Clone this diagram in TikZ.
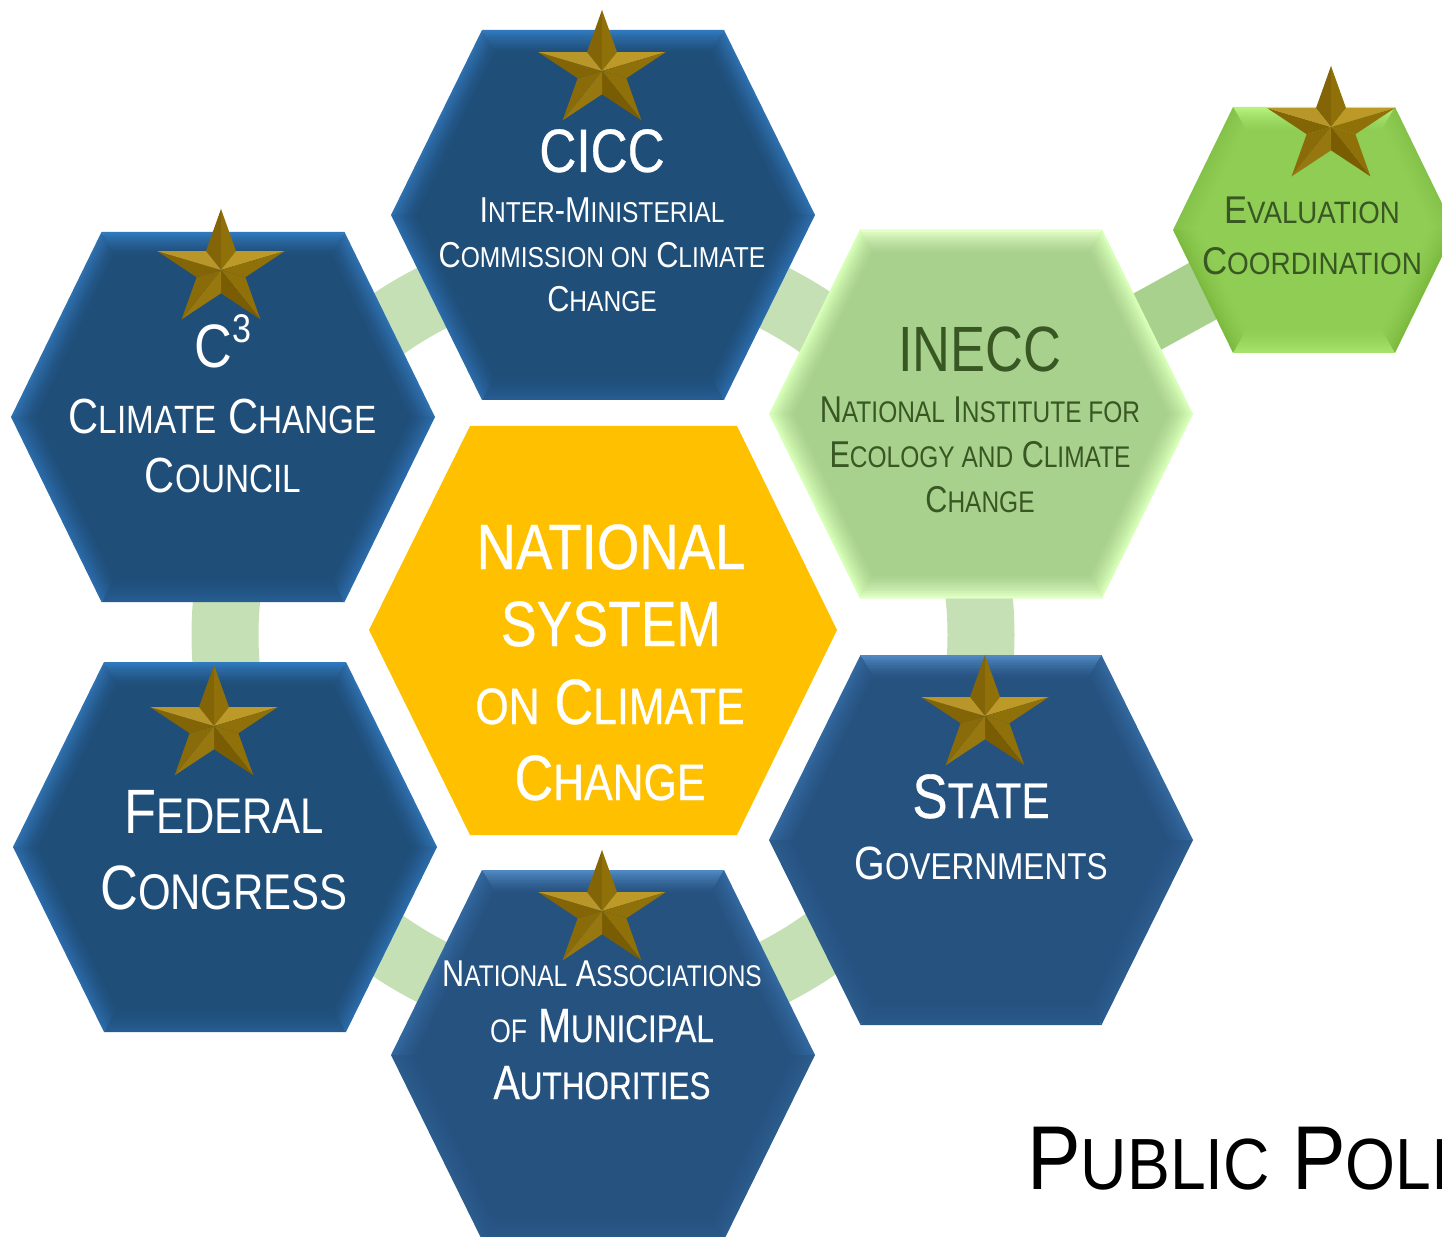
\documentclass[tikz,border=0pt]{standalone}
\usepackage{fontspec}
\setmainfont[FakeStretch=0.82]{Liberation Sans}
\newfontfamily\medf[FakeStretch=0.82,FakeBold=0.5]{Liberation Sans}
\newdimen\bsz
\newcommand\tline[2]{\bsz=#1pt\fontsize{\bsz}{\bsz}\selectfont #2}
\newcommand\sm[1]{{\fontsize{\the\dimexpr0.8\bsz\relax}{\bsz}\selectfont #1}}
\newcommand\smm[1]{{\fontsize{\the\dimexpr0.68\bsz\relax}{\bsz}\selectfont #1}}
\newcommand\xs[2]{\scalebox{#1}[1]{#2}}
\definecolor{ringgreen}{HTML}{C5E0B4}
\definecolor{linkgreen}{HTML}{A9D18E}
\definecolor{amber}{HTML}{FFC000}
\definecolor{dgreen}{HTML}{385723}
\newcommand\hexag[9]{% cx cy hw hh tw flat top upper lower; bottom colour in \hexbot
  \foreach \k in {0,...,9}{%
    \pgfmathsetmacro\lv{\k/9}
    \pgfmathsetmacro\mixp{100*(1-\lv)^1.4}
    \pgfmathsetmacro\H{#3-26*\lv}
    \pgfmathsetmacro\V{#4-23*\lv}
    \pgfmathsetmacro\T{#5-13*\lv}
    \colorlet{ca}{#7!\mixp!#6}\colorlet{cb}{#8!\mixp!#6}\colorlet{cc}{#9!\mixp!#6}\colorlet{cd}{\hexbot!\mixp!#6}
    \fill[ca] (#1-\T,#2-\V) -- (#1+\T,#2-\V) -- (#1,#2) -- cycle;
    \fill[cb] (#1+\T,#2-\V) -- (#1+\H,#2) -- (#1,#2) -- cycle;
    \fill[cb] (#1-\T,#2-\V) -- (#1-\H,#2) -- (#1,#2) -- cycle;
    \fill[cc] (#1+\T,#2+\V) -- (#1+\H,#2) -- (#1,#2) -- cycle;
    \fill[cc] (#1-\T,#2+\V) -- (#1-\H,#2) -- (#1,#2) -- cycle;
    \fill[cd] (#1-\T,#2+\V) -- (#1+\T,#2+\V) -- (#1,#2) -- cycle;
  }
  \pgfmathsetmacro\H{#3-26}\pgfmathsetmacro\V{#4-23}\pgfmathsetmacro\T{#5-13}
  \fill[#6] (#1-\T,#2-\V) -- (#1+\T,#2-\V) -- (#1+\H,#2) -- (#1+\T,#2+\V) -- (#1-\T,#2+\V) -- (#1-\H,#2) -- cycle;
}
\newcommand\facet[4]{% cx cy tipangle colour
  \pgfmathsetmacro\ax{#1+67*sin(#3)}\pgfmathsetmacro\ay{#2-61*cos(#3)}
  \pgfmathsetmacro\bx{#1+25.6*sin(#3-36)}\pgfmathsetmacro\by{#2-23.3*cos(#3-36)}
  \fill[#4] (\ax,\ay) -- (\bx,\by) -- (#1,#2) -- cycle;
}
\newcommand\facetb[4]{%
  \pgfmathsetmacro\ax{#1+67*sin(#3)}\pgfmathsetmacro\ay{#2-61*cos(#3)}
  \pgfmathsetmacro\bx{#1+25.6*sin(#3+36)}\pgfmathsetmacro\by{#2-23.3*cos(#3+36)}
  \fill[#4] (\ax,\ay) -- (\bx,\by) -- (#1,#2) -- cycle;
}
\newcommand\goldstar[2]{%
  \facet{#1}{#2}{0}{fa}\facetb{#1}{#2}{0}{fb}
  \facet{#1}{#2}{72}{fc}\facetb{#1}{#2}{72}{fd}
  \facet{#1}{#2}{144}{fd}\facetb{#1}{#2}{144}{fe}
  \facet{#1}{#2}{216}{ff}\facetb{#1}{#2}{216}{fg}
  \facet{#1}{#2}{288}{fh}\facetb{#1}{#2}{288}{fi}
}
\definecolor{fa}{HTML}{836406}\definecolor{fb}{HTML}{8F7009}
\definecolor{fc}{HTML}{BD9A28}\definecolor{fd}{HTML}{8F7009}
\definecolor{fe}{HTML}{7A5C03}\definecolor{ff}{HTML}{97770F}
\definecolor{fg}{HTML}{8A6B09}\definecolor{fh}{HTML}{846506}
\definecolor{fi}{HTML}{B8962A}
\tikzset{
  ringlink/.style={draw=ringgreen,line width=50.25pt},
  evallink/.style={draw=linkgreen,line width=47pt},
  wtxt/.style={anchor=base,inner sep=0pt,text=white},
  gtxt/.style={anchor=base,inner sep=0pt,text=dgreen},
  ktxt/.style={anchor=base west,inner sep=0pt,text=black},
}
\begin{document}
\begin{tikzpicture}[x=0.75pt,y=-0.75pt]
\useasboundingbox (0,0) rectangle (1442,1237);
\clip (0,0) rectangle (1442,1237);
% anchors
\coordinate (hub) at (603,635);
\coordinate (inecc) at (981,413);
\coordinate (eval) at (1314,230);
% connectors
\draw[evallink] (inecc) -- (eval);
\foreach \a/\b in {165/195,225/255,285/315,-15/15,45/75,105/135}{
  \coordinate (ra) at ([shift={(\a:378)}]hub);
  \draw[ringlink] (ra) arc[start angle=\a,end angle=\b,radius=378];
}
% hexagons
\definecolor{bB}{HTML}{265C92}\def\hexbot{bB}
\definecolor{fB}{HTML}{1F4E79}\definecolor{tB}{HTML}{3079BC}\definecolor{uB}{HTML}{2E6FAE}\definecolor{lB}{HTML}{2B6AA8}
\hexag{603}{215}{212}{185}{121}{fB}{tB}{uB}{lB}
\hexag{223}{417}{212}{185}{121.5}{fB}{tB}{uB}{lB}
\hexag{225}{847}{212}{185}{121}{fB}{tB}{uB}{lB}
\definecolor{fM}{HTML}{265280}\definecolor{tM}{HTML}{4F88C2}\definecolor{uM}{HTML}{33689F}\definecolor{lM}{HTML}{2B5C8D}\definecolor{bM}{HTML}{2A5A8A}
\def\hexbot{bM}
\hexag{981}{840}{212}{185}{120.5}{fM}{tM}{uM}{lM}
\hexag{603}{1055}{212}{185}{121}{fM}{tM}{uM}{lM}
\definecolor{fI}{HTML}{A9D18E}\definecolor{tI}{HTML}{E4FFC8}\definecolor{uI}{HTML}{D8FFB8}\definecolor{lI}{HTML}{D8FFB8}\definecolor{bI}{HTML}{E0FFC4}
\def\hexbot{bI}
\hexag{981}{414}{212}{184.5}{121}{fI}{tI}{uI}{lI}
\definecolor{fE}{HTML}{8FCD55}\definecolor{tE}{HTML}{B6F27C}\definecolor{uE}{HTML}{84C24A}\definecolor{lE}{HTML}{7DBB40}\definecolor{bE}{HTML}{A4E26A}
\def\hexbot{bE}
\hexag{1314}{230}{141}{123}{81}{fE}{tE}{uE}{lE}
\fill[amber] (470,426) -- (737,426) -- (837,630) -- (737,835) -- (470,835) -- (369,630) -- cycle;
% stars
\goldstar{602}{71}
\goldstar{221}{270}
\goldstar{214}{726}
\goldstar{985}{716}
\goldstar{602}{911}
\goldstar{1331}{127}
% CICC
\node[wtxt] (t1) at (602,172) {\medf\tline{46}{\xs{1.02}{CICC}}};
\node[wtxt] (t2) at (602,223) {\tline{27}{\xs{1.04}{I\sm{NTER}-M\sm{INISTERIAL}}}};
\node[wtxt] (t3) at (602,268) {\tline{27}{\xs{1.04}{C\sm{OMMISSION ON} C\sm{LIMATE}}}};
\node[wtxt] (t4) at (602,312) {\tline{27}{\xs{1.04}{C\sm{HANGE}}}};
% C3
\node[wtxt] (t5) at (223,368) {\tline{46}{\xs{1.04}{C\raisebox{.42em}{\fontsize{30}{30}\selectfont 3}}}};
\node[wtxt] (t6) at (223,433) {\tline{37}{\xs{1.03}{C\sm{LIMATE} C\sm{HANGE}}}};
\node[wtxt] (t7) at (223,492) {\tline{37}{\xs{1.03}{C\sm{OUNCIL}}}};
% Federal
\node[wtxt] (t8) at (224,833) {\tline{47}{\xs{1.02}{F\sm{EDERAL}}}};
\node[wtxt] (t9) at (224,909) {\tline{47}{\xs{1.02}{C\sm{ONGRESS}}}};
% Centre
\node[wtxt] (t10) at (611,569) {\medf\tline{48}{\xs{1.04}{NATIONAL}}};
\node[wtxt] (t11) at (611,646) {\medf\tline{48}{\xs{1.02}{SYSTEM}}};
\node[wtxt] (t12) at (610,724) {\medf\tline{48}{\xs{1.02}{\sm{ON} C\sm{LIMATE}}}};
\node[wtxt] (t13) at (610,800) {\medf\tline{48}{\xs{1.02}{C\sm{HANGE}}}};
% INECC
\node[gtxt] (t14) at (980,372) {\tline{48}{INECC}};
\node[gtxt] (t15) at (980,422) {\tline{28}{N\sm{ATIONAL} I\sm{NSTITUTE FOR}}};
\node[gtxt] (t16) at (980,467) {\tline{28}{E\sm{COLOGY AND} C\sm{LIMATE}}};
\node[gtxt] (t17) at (980,512) {\tline{28}{C\sm{HANGE}}};
% Evaluation
\node[gtxt] (t18) at (1312,224) {\tline{29}{\xs{1.09}{E\sm{VALUATION}}}};
\node[gtxt] (t19) at (1312,275) {\tline{29}{\xs{1.10}{C\sm{OORDINATION}}}};
% State
\node[wtxt] (t20) at (981,818) {\medf\tline{47}{\xs{1.03}{S\sm{TATE}}}};
\node[wtxt] (t21) at (981,879) {\tline{35}{\xs{1.03}{G\sm{OVERNMENTS}}}};
% Municipal
\node[wtxt] (t22) at (602,986) {\tline{28}{N\sm{ATIONAL} A\sm{SSOCIATIONS}}};
\node[wtxt] (t23) at (602,1042) {\medf\tline{36}{{\normalfont\smm{OF}} M\sm{UNICIPAL}}};
\node[wtxt] (t24) at (602,1099) {\medf\tline{36}{A\sm{UTHORITIES}}};
% Public
\node[ktxt] (t25) at (1027,1189) {\tline{68}{\xs{1.08}{P\sm{UBLIC} P\sm{OLI}}}};
\end{tikzpicture}
\end{document}
